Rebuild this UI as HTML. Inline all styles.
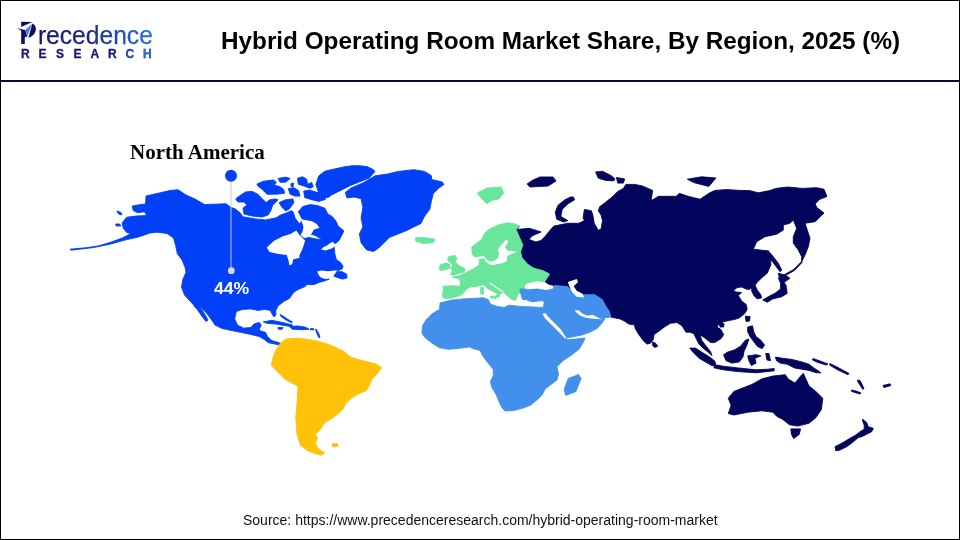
<!DOCTYPE html>
<html><head><meta charset="utf-8">
<style>
html,body{margin:0;padding:0;background:#fff;}
#page{position:relative;width:960px;height:540px;overflow:hidden;background:#fff;}
#frame{position:absolute;left:0;top:0;width:958px;height:538px;border:1px solid #000;}
#hline{position:absolute;left:0;top:80px;width:960px;height:2px;background:#0b0a3c;}
#title{position:absolute;left:221px;top:26.5px;will-change:transform;font:bold 24.3px "Liberation Sans",sans-serif;color:#000;white-space:nowrap;}
#src{position:absolute;left:243px;top:512px;will-change:transform;font:14px "Liberation Sans",sans-serif;color:#111;white-space:nowrap;}
#na{position:absolute;left:130px;top:139.5px;will-change:transform;font:bold 21px "Liberation Serif",serif;color:#000;white-space:nowrap;}
#pct{position:absolute;left:213.5px;top:280.3px;will-change:transform;font:bold 16px "Liberation Sans",sans-serif;color:#fff;white-space:nowrap;transform:scaleX(1.1);transform-origin:0 0;}
svg{position:absolute;left:0;top:0;}
</style></head><body>
<div id="page">
<svg width="960" height="540" viewBox="0 0 960 540">
<path fill="#03045c" stroke="#03045c" stroke-width="0.9" stroke-linejoin="round" d="M519.4,226.1 517.2,229.5 529.2,228.3 541.1,231.9 532.0,236.0 529.0,239.5 536.0,242.0 541.0,240.5 545.0,236.5 550.7,229.5 553.9,226.1 567.8,223.3 578.9,223.3 584.4,220.6 583.1,217.8 584.4,209.4 591.4,210.8 592.8,215.0 594.2,223.3 598.3,230.3 601.1,228.9 602.5,220.6 601.1,215.0 598.3,210.8 599.7,206.7 605.3,202.5 612.2,197.0 617.8,191.4 623.3,188.6 625.9,184.4 634.8,184.4 642.2,185.9 652.6,190.4 651.1,200.7 658.5,196.3 676.3,196.3 679.3,193.3 688.1,196.3 700.0,199.3 708.9,193.3 714.8,190.4 726.7,189.6 740.0,190.4 749.6,190.6 758.3,192.8 770.0,190.6 775.8,188.4 787.5,187.0 802.1,188.4 816.7,187.7 824.0,189.2 826.9,196.5 819.6,199.4 815.2,203.8 816.7,207.4 824.0,213.0 815.0,221.7 805.0,223.3 806.7,228.3 810.0,238.3 808.3,246.7 805.0,255.0 801.7,261.7 801.7,256.7 798.3,250.0 793.3,243.3 793.3,236.7 796.7,228.3 793.3,220.0 790.0,223.3 783.3,225.0 783.3,230.0 776.7,234.2 765.0,236.7 756.7,241.7 753.3,249.2 760.0,250.0 766.7,250.8 770.8,256.7 770.8,265.0 767.2,273.3 761.7,277.8 757.5,282.0 755.0,285.0 757.2,290.0 760.6,294.4 761.7,297.8 757.2,298.9 753.9,295.6 751.7,291.1 751.7,287.8 749.4,289.5 746.1,289.0 741.7,287.0 737.2,287.5 733.5,290.5 736.0,292.0 741.7,292.5 738.3,295.6 741.7,301.1 746.1,304.4 747.2,308.9 745.0,313.3 739.4,317.8 735.2,319.3 728.7,320.6 722.3,321.9 723.6,324.5 718.4,324.5 717.1,327.0 721.0,329.6 723.6,334.8 721.0,338.7 714.5,342.6 710.6,342.6 704.1,337.4 700.2,334.8 701.5,340.0 705.4,345.2 710.6,351.7 711.9,355.6 709.3,353.0 704.1,349.1 698.9,343.9 696.3,338.7 693.7,333.5 689.8,332.2 686.0,332.2 682.0,325.8 676.9,322.5 670.4,323.3 664.4,327.0 658.5,331.5 654.1,334.4 653.3,339.6 650.4,343.3 646.7,344.1 643.7,341.1 639.3,335.2 635.6,329.3 634.1,324.8 628.9,324.1 624.4,321.1 620.0,318.9 610.9,317.1 609.1,311.1 605.4,305.6 602.2,299.4 594.8,294.8 583.7,294.8 574.4,292.0 567.0,286.5 554.1,285.6 548.0,284.0 545.0,282.0 548.5,276.0 549.4,273.9 542.8,270.6 533.9,268.3 527.2,263.9 521.7,257.2 520.6,251.7 522.8,245.0 519.4,237.2 516.1,229.4Z"/>
<path fill="#03045c" stroke="#03045c" stroke-width="0.9" stroke-linejoin="round" d="M573.3,197.0 574.7,199.7 567.8,203.9 562.2,209.4 560.8,216.4 567.8,220.6 563.6,222.0 556.7,219.2 555.3,212.2 558.0,205.3 565.0,199.7 570.6,197.0Z"/>
<path fill="#03045c" stroke="#03045c" stroke-width="0.9" stroke-linejoin="round" d="M527.0,184.0 533.0,180.0 540.0,177.0 553.0,177.0 556.0,181.0 548.0,186.0 530.0,187.0Z"/>
<path fill="#03045c" stroke="#03045c" stroke-width="0.9" stroke-linejoin="round" d="M595.6,171.9 602.5,171.3 610.8,175.4 615.0,178.9 613.6,181.0 605.3,180.3 598.3,178.2Z"/>
<path fill="#03045c" stroke="#03045c" stroke-width="0.9" stroke-linejoin="round" d="M616.4,177.5 624.7,178.9 623.3,183.1 617.8,183.1Z"/>
<path fill="#03045c" stroke="#03045c" stroke-width="0.9" stroke-linejoin="round" d="M687.3,179.2 701.7,176.8 716.0,178.0 708.8,186.4 694.5,182.8Z"/>
<path fill="#03045c" stroke="#03045c" stroke-width="0.9" stroke-linejoin="round" d="M767.5,250.0 773.3,256.7 778.3,263.3 781.7,270.0 780.0,271.7 775.0,265.0 770.0,258.3Z"/>
<path fill="#03045c" stroke="#03045c" stroke-width="0.9" stroke-linejoin="round" d="M801.7,261.5 793.3,269.8 786.7,273.3 784.0,275.0 786.0,275.2 794.0,270.8 802.0,262.5Z"/>
<path fill="#03045c" stroke="#03045c" stroke-width="0.9" stroke-linejoin="round" d="M778.3,273.3 785.0,275.0 790.0,278.3 785.0,281.7 780.0,280.0Z"/>
<path fill="#03045c" stroke="#03045c" stroke-width="0.9" stroke-linejoin="round" d="M778.3,277.8 782.8,280.0 786.1,285.6 787.2,293.3 781.7,296.7 772.8,298.9 767.2,302.2 762.8,300.0 768.3,296.7 775.0,293.3 780.6,288.9 780.6,283.3Z"/>
<path fill="#03045c" stroke="#03045c" stroke-width="0.9" stroke-linejoin="round" d="M745.3,316.2 750.1,316.5 749.5,321.0 746.0,321.5Z"/>
<path fill="#03045c" stroke="#03045c" stroke-width="0.9" stroke-linejoin="round" d="M719.5,324.0 724.0,323.5 723.5,327.0 720.0,327.0Z"/>
<path fill="#03045c" stroke="#03045c" stroke-width="0.9" stroke-linejoin="round" d="M652.6,341.9 655.6,343.3 657.8,346.3 654.8,347.4 652.6,345.6Z"/>
<path fill="#03045c" stroke="#03045c" stroke-width="0.9" stroke-linejoin="round" d="M689.8,348.1 695.4,348.1 702.8,352.8 710.2,357.4 714.8,361.1 715.7,364.8 712.0,365.7 705.6,362.0 699.1,358.3 693.5,352.8Z"/>
<path fill="#03045c" stroke="#03045c" stroke-width="0.9" stroke-linejoin="round" d="M714.0,364.5 723.0,366.2 737.8,367.9 756.0,369.8 768.0,369.2 774.2,368.5 774.2,370.8 756.0,372.8 737.8,371.6 723.0,369.8 714.0,367.8Z"/>
<path fill="#03045c" stroke="#03045c" stroke-width="0.9" stroke-linejoin="round" d="M723.6,354.7 727.2,352.3 734.4,349.9 740.5,346.3 745.3,340.3 748.9,339.1 746.5,346.3 744.1,351.1 742.9,357.1 739.3,361.9 732.0,363.1 726.0,360.7Z"/>
<path fill="#03045c" stroke="#03045c" stroke-width="0.9" stroke-linejoin="round" d="M747.7,327.0 752.5,325.8 753.7,331.8 756.1,336.7 760.9,340.3 764.5,345.1 762.1,348.7 757.3,346.3 753.7,341.5 750.1,336.7 747.7,331.8Z"/>
<path fill="#03045c" stroke="#03045c" stroke-width="0.9" stroke-linejoin="round" d="M747.7,355.9 756.1,354.7 760.9,355.9 754.9,358.3 756.1,363.1 751.3,365.5 748.9,360.7Z"/>
<path fill="#03045c" stroke="#03045c" stroke-width="0.9" stroke-linejoin="round" d="M765.7,353.5 769.0,353.5 770.5,360.7 767.0,360.0Z"/>
<path fill="#03045c" stroke="#03045c" stroke-width="0.9" stroke-linejoin="round" d="M775.4,357.1 782.6,358.3 792.2,359.5 801.8,361.9 809.0,364.3 813.9,368.0 821.1,372.8 816.3,372.8 809.0,370.4 801.8,369.2 794.6,368.0 787.4,364.3 780.2,363.1 776.6,360.7Z"/>
<path fill="#03045c" stroke="#03045c" stroke-width="0.9" stroke-linejoin="round" d="M813.0,358.5 820.0,361.0 828.0,364.0 826.0,365.0 818.0,362.5 812.5,360.0Z"/>
<path fill="#03045c" stroke="#03045c" stroke-width="0.9" stroke-linejoin="round" d="M830.0,363.5 838.0,367.5 849.0,373.5 848.0,374.8 837.0,369.5 829.5,365.0Z"/>
<path fill="#03045c" stroke="#03045c" stroke-width="0.9" stroke-linejoin="round" d="M857.5,380.0 860.0,380.5 864.0,388.5 862.8,389.3 858.0,382.0Z"/>
<path fill="#03045c" stroke="#03045c" stroke-width="0.9" stroke-linejoin="round" d="M851.5,390.0 856.0,391.0 861.0,393.0 860.0,394.0 855.0,392.5 851.5,391.3Z"/>
<path fill="#03045c" stroke="#03045c" stroke-width="0.9" stroke-linejoin="round" d="M883.0,385.5 890.0,383.8 890.8,385.5 884.0,387.6Z"/>
<path fill="#03045c" stroke="#03045c" stroke-width="0.9" stroke-linejoin="round" d="M728.3,398.3 733.9,391.4 751.9,384.4 761.7,378.9 772.8,376.1 785.3,374.7 788.1,378.9 795.0,383.1 800.6,376.1 803.3,373.3 808.9,385.8 815.8,391.4 822.8,398.3 821.4,409.4 815.8,417.8 808.9,423.3 797.8,426.1 789.4,424.7 782.5,419.2 776.9,416.4 772.8,412.2 761.7,410.8 747.8,412.2 733.9,415.0 728.3,413.6 731.1,405.3Z"/>
<path fill="#03045c" stroke="#03045c" stroke-width="0.9" stroke-linejoin="round" d="M790.8,428.9 800.6,428.9 799.2,434.4 793.6,438.6 791.5,434.4Z"/>
<path fill="#03045c" stroke="#03045c" stroke-width="0.9" stroke-linejoin="round" d="M862.5,419.2 866.7,422.5 868.3,426.7 873.3,428.3 871.7,431.7 866.7,434.2 861.7,436.7 858.3,437.5 852.5,442.5 846.7,446.7 840.0,450.0 835.8,450.8 835.0,446.7 841.7,443.3 850.0,438.3 855.8,435.0 860.0,431.7 864.2,429.2 864.2,425.0 862.5,420.8Z"/>
<path fill="#69e69b" stroke="#69e69b" stroke-width="0.9" stroke-linejoin="round" d="M471.7,247.2 477.2,242.8 481.7,239.4 485.0,232.8 490.6,228.3 498.3,225.0 507.2,222.8 515.0,223.9 519.4,226.1 516.1,229.4 519.4,237.2 522.8,245.0 520.6,251.7 521.7,257.2 527.2,263.9 533.9,268.3 542.8,270.6 549.4,273.9 548.5,276.0 544.8,281.0 541.0,282.5 530.0,282.8 526.0,284.0 524.4,288.9 522.2,292.2 518.0,294.0 516.5,298.5 515.2,300.5 511.3,299.2 507.4,296.0 503.5,292.0 499.6,294.6 499.0,297.2 496.5,297.0 497.0,293.3 493.2,291.4 488.0,288.8 484.7,285.6 482.8,284.9 478.9,285.6 475.0,286.9 471.1,286.7 466.7,288.9 462.2,294.4 453.3,297.8 444.4,298.9 442.2,295.6 443.3,291.1 443.0,286.3 452.0,285.7 459.6,286.3 460.6,284.0 459.6,279.0 452.2,277.0 457.8,276.1 460.6,275.2 466.1,272.4 471.7,269.6 473.6,268.9 479.1,265.0 479.1,259.4 476.0,258.5 472.4,254.4Z"/>
<path fill="#69e69b" stroke="#69e69b" stroke-width="0.9" stroke-linejoin="round" d="M448.5,256.7 455.0,255.3 456.9,258.5 455.0,262.2 459.6,265.9 465.2,268.7 464.3,271.9 459.6,273.3 453.1,275.2 450.4,274.3 452.2,271.5 451.3,267.8 453.1,265.0 449.4,262.2 447.6,259.4Z"/>
<path fill="#69e69b" stroke="#69e69b" stroke-width="0.9" stroke-linejoin="round" d="M440.2,265.0 445.7,263.1 449.4,264.1 450.4,267.8 446.7,269.6 440.2,270.6 439.3,267.8Z"/>
<path fill="#69e69b" stroke="#69e69b" stroke-width="0.9" stroke-linejoin="round" d="M415.7,237.5 425.0,237.8 435.0,239.2 433.3,242.7 422.7,243.6 415.7,241.0Z"/>
<path fill="#69e69b" stroke="#69e69b" stroke-width="0.9" stroke-linejoin="round" d="M477.2,193.0 486.8,188.2 501.2,187.0 503.6,193.0 498.8,199.1 491.6,200.3 486.8,203.9 482.0,199.1Z"/>
<path fill="#69e69b" stroke="#69e69b" stroke-width="0.9" stroke-linejoin="round" d="M480.5,287.5 483.4,287.5 483.6,294.0 480.8,294.0Z"/>
<path fill="#69e69b" stroke="#69e69b" stroke-width="0.9" stroke-linejoin="round" d="M490.6,296.0 496.4,296.3 496.0,298.3 491.0,298.0Z"/>
<path fill="#4290ec" stroke="#4290ec" stroke-width="0.9" stroke-linejoin="round" d="M440.0,302.9 451.5,300.1 462.9,298.9 474.4,298.3 483.5,297.8 488.1,299.5 490.4,304.1 497.3,306.4 504.2,307.5 508.8,305.2 520.2,306.4 531.7,306.9 543.1,307.5 544.3,302.9 543.1,300.6 531.7,301.8 525.9,299.5 522.5,299.5 520.2,291.5 520.0,288.9 528.3,289.3 537.1,288.5 545.8,290.0 553.1,288.5 554.1,285.6 567.0,286.5 574.4,292.0 583.7,294.8 594.8,294.8 602.2,299.4 605.4,305.6 609.1,311.1 610.9,317.1 605.4,317.6 602.6,322.2 598.0,327.8 590.6,331.9 581.3,335.2 573.9,336.6 566.5,338.0 567.4,339.8 576.7,338.9 585.0,338.0 583.7,341.5 579.3,348.9 571.9,354.8 563.0,360.7 557.0,366.7 558.5,374.1 557.0,380.0 551.1,384.4 545.2,388.9 542.2,394.8 537.8,399.3 530.4,405.2 523.0,408.1 514.1,410.4 505.2,411.1 502.2,408.1 499.3,402.2 496.3,394.8 491.9,387.4 490.4,381.5 493.3,375.6 493.3,369.6 487.4,362.2 483.0,356.3 480.0,350.4 475.2,349.3 469.3,347.0 457.4,348.5 448.5,349.3 439.6,347.8 432.2,343.3 424.8,337.4 421.9,333.0 422.6,325.6 426.3,319.6 432.2,313.7 439.6,309.3Z"/>
<path fill="#4290ec" stroke="#4290ec" stroke-width="0.9" stroke-linejoin="round" d="M568.2,378.5 578.5,374.6 581.1,378.5 575.9,391.5 565.6,395.4 564.3,389.0Z"/>
<path fill="#0240f8" stroke="#0240f8" stroke-width="0.9" stroke-linejoin="round" d="M70.0,249.2 87.8,247.6 98.9,245.8 110.0,242.5 122.2,238.0 131.1,233.6 126.7,232.5 123.3,228.3 122.2,222.8 126.7,217.2 135.6,216.1 146.7,215.5 144.4,211.7 137.8,212.8 133.3,210.6 132.2,206.1 137.8,205.0 145.6,203.9 146.0,196.0 157.0,193.5 170.0,190.5 178.0,189.7 186.0,195.0 195.0,199.0 204.5,204.5 220.0,204.0 226.0,203.7 231.0,207.5 235.0,208.7 240.0,212.8 243.0,216.8 255.5,218.9 265.6,219.9 275.8,217.9 281.0,214.8 287.0,212.8 291.0,210.7 297.0,214.0 301.0,221.0 304.0,229.0 300.0,235.0 304.0,238.5 309.0,237.5 316.0,239.0 323.0,239.5 330.0,238.0 333.0,234.0 337.0,233.0 343.7,231.3 339.3,240.2 334.0,245.0 334.8,253.5 336.3,259.4 340.4,262.4 343.1,266.1 342.2,268.9 337.6,270.7 329.0,272.5 322.0,273.0 329.3,279.1 324.6,280.9 318.1,282.8 314.4,284.6 307.0,284.6 305.2,286.5 298.7,289.3 294.1,292.0 291.3,295.7 289.4,298.5 283.9,301.3 279.3,305.0 277.9,306.3 275.8,310.4 275.8,315.6 273.8,316.7 271.7,313.5 270.6,310.4 264.4,309.4 258.1,310.4 250.8,308.9 242.5,309.4 236.3,311.5 234.7,318.8 237.3,325.0 243.5,328.1 250.8,327.6 254.0,324.0 259.2,322.4 261.3,325.0 259.2,329.2 261.3,331.3 265.4,332.3 267.5,336.5 271.7,340.6 275.8,341.7 281.0,343.5 279.0,344.8 273.8,343.8 268.5,342.7 264.4,339.6 259.2,336.5 250.8,334.4 240.4,332.3 230.0,330.2 221.7,328.3 215.0,325.0 211.7,320.0 206.7,313.3 200.0,306.7 194.6,306.0 189.9,300.9 184.5,295.0 181.5,287.0 183.0,279.0 186.0,272.5 185.2,267.8 182.0,259.9 177.3,253.6 175.7,245.7 173.5,238.0 167.0,233.5 157.2,232.2 150.0,233.0 144.4,235.0 137.8,237.2 126.7,239.6 110.0,244.2 93.3,247.6 71.1,250.2Z"/>
<path fill="#0240f8" stroke="#0240f8" stroke-width="0.9" stroke-linejoin="round" d="M117.0,211.0 121.0,212.5 122.0,215.0 118.5,214.0Z"/>
<path fill="#0240f8" stroke="#0240f8" stroke-width="0.9" stroke-linejoin="round" d="M115.6,224.0 119.5,223.9 121.0,225.8 116.5,226.2Z"/>
<path fill="#0240f8" stroke="#0240f8" stroke-width="0.9" stroke-linejoin="round" d="M196.0,305.0 199.0,306.0 204.0,313.0 208.0,320.0 206.0,321.5 201.0,315.0 197.0,309.0 194.0,306.0Z"/>
<path fill="#0240f8" stroke="#0240f8" stroke-width="0.9" stroke-linejoin="round" d="M333.5,276.0 336.7,271.7 342.2,271.7 346.9,274.4 346.9,278.1 342.2,279.1 336.7,277.2Z"/>
<path fill="#0240f8" stroke="#0240f8" stroke-width="0.9" stroke-linejoin="round" d="M235.6,198.9 239.3,196.1 245.7,191.9 252.2,191.4 257.8,194.2 262.4,198.9 266.1,202.6 269.8,199.8 275.4,198.9 278.1,199.8 272.6,205.3 270.7,210.9 268.0,215.0 262.0,217.0 252.0,216.0 244.0,214.0 243.0,208.0 247.0,205.0 244.0,202.0 238.0,202.0Z"/>
<path fill="#0240f8" stroke="#0240f8" stroke-width="0.9" stroke-linejoin="round" d="M256.9,184.0 263.3,181.3 273.5,179.9 276.3,182.2 274.4,185.0 280.0,186.8 283.7,189.6 284.6,193.3 276.3,194.2 267.0,194.2 262.4,189.6 257.8,185.9Z"/>
<path fill="#0240f8" stroke="#0240f8" stroke-width="0.9" stroke-linejoin="round" d="M278.1,178.5 285.6,177.1 290.2,178.5 285.6,182.2 280.0,182.2Z"/>
<path fill="#0240f8" stroke="#0240f8" stroke-width="0.9" stroke-linejoin="round" d="M288.3,188.7 293.9,187.7 298.5,190.5 300.0,196.1 294.8,196.1 290.2,194.2Z"/>
<path fill="#0240f8" stroke="#0240f8" stroke-width="0.9" stroke-linejoin="round" d="M297.5,178.3 302.5,176.7 306.7,179.2 307.5,184.2 311.7,182.5 313.3,186.7 310.0,188.3 303.3,185.8 298.3,184.2Z"/>
<path fill="#0240f8" stroke="#0240f8" stroke-width="0.9" stroke-linejoin="round" d="M291.0,183.5 293.5,183.0 293.0,187.0 291.0,186.5Z"/>
<path fill="#0240f8" stroke="#0240f8" stroke-width="0.9" stroke-linejoin="round" d="M303.7,191.1 309.4,190.1 315.9,192.0 322.5,193.9 326.2,195.7 325.3,199.5 318.7,201.4 311.2,199.5 304.7,197.6Z"/>
<path fill="#0240f8" stroke="#0240f8" stroke-width="0.9" stroke-linejoin="round" d="M279.1,202.6 285.6,199.8 293.0,198.9 293.9,202.6 289.3,209.0 285.6,210.9 281.9,207.2Z"/>
<path fill="#0240f8" stroke="#0240f8" stroke-width="0.9" stroke-linejoin="round" d="M298.1,212.0 302.8,206.5 310.2,204.6 317.6,205.6 325.0,208.3 327.8,213.9 332.4,216.7 336.1,221.3 338.0,225.9 343.5,230.6 341.7,234.3 334.3,235.2 331.5,238.9 326.9,240.7 321.3,238.9 314.8,235.2 311.1,234.3 313.9,229.6 319.4,227.8 316.7,224.1 312.0,221.3 307.4,221.3 302.8,219.4 299.1,216.7Z"/>
<path fill="#0240f8" stroke="#0240f8" stroke-width="0.9" stroke-linejoin="round" d="M315.9,184.5 318.7,176.1 324.4,171.4 331.9,169.5 345.0,166.7 352.5,165.7 360.0,165.7 367.5,166.7 373.1,169.5 375.0,171.4 369.3,177.9 360.0,181.7 350.6,185.4 343.1,189.2 337.5,192.0 331.9,194.8 328.1,197.6 322.5,196.7 318.7,192.9Z"/>
<path fill="#0240f8" stroke="#0240f8" stroke-width="0.9" stroke-linejoin="round" d="M345.3,192.6 350.6,188.2 362.9,182.9 375.2,175.8 387.5,174.1 398.1,171.4 413.9,169.7 424.5,171.4 431.5,175.8 431.5,179.4 442.1,182.0 443.9,184.6 438.6,188.2 433.3,193.5 431.5,200.5 429.8,209.3 424.5,216.3 421.0,223.4 413.9,226.9 406.9,230.4 398.1,233.9 389.3,237.5 384.0,242.7 378.7,248.0 373.5,251.5 366.4,249.8 361.1,242.7 359.4,233.9 362.9,226.9 361.1,218.1 362.9,207.5 361.1,198.7 354.1,197.0 347.0,197.9Z"/>
<path fill="#0240f8" stroke="#0240f8" stroke-width="0.9" stroke-linejoin="round" d="M263.3,321.9 271.7,320.3 280.0,321.9 286.3,323.4 292.5,325.0 291.5,326.6 284.2,325.5 275.8,324.0 267.5,323.4Z"/>
<path fill="#0240f8" stroke="#0240f8" stroke-width="0.9" stroke-linejoin="round" d="M289.4,326.6 297.7,326.0 305.0,327.1 309.2,329.2 301.9,329.7 292.5,329.2Z"/>
<path fill="#0240f8" stroke="#0240f8" stroke-width="0.9" stroke-linejoin="round" d="M277.9,327.6 283.1,327.6 282.1,329.2 278.4,329.2Z"/>
<path fill="#0240f8" stroke="#0240f8" stroke-width="0.9" stroke-linejoin="round" d="M310.5,328.5 314.0,328.8 313.5,330.0 310.5,329.8Z"/>
<path fill="#0240f8" stroke="#0240f8" stroke-width="0.9" stroke-linejoin="round" d="M280.0,314.6 283.0,316.0 288.0,319.5 292.5,322.0 291.5,322.8 286.0,320.0 281.0,316.5Z"/>
<path fill="#0240f8" stroke="#0240f8" stroke-width="0.9" stroke-linejoin="round" d="M315.4,329.2 316.5,329.5 319.0,334.0 320.0,337.5 318.8,337.5 317.0,333.5Z"/>
<path fill="#ffc208" stroke="#ffc208" stroke-width="0.9" stroke-linejoin="round" d="M280.2,343.3 286.1,338.9 298.0,338.1 314.3,340.4 324.6,343.0 335.0,347.0 343.9,351.5 351.3,357.5 363.1,360.8 376.5,364.1 381.7,367.8 376.5,374.4 372.0,378.9 369.1,386.3 366.1,390.7 358.7,393.7 351.3,398.1 345.4,404.1 342.8,409.4 334.3,416.7 324.7,422.7 319.9,429.9 315.1,434.7 317.5,438.3 315.1,443.1 318.7,449.2 324.7,452.8 321.1,455.2 309.1,451.6 300.6,445.5 297.0,434.7 295.8,417.9 297.1,402.2 298.0,386.3 284.6,378.9 278.7,373.0 271.3,365.6 272.8,358.1 275.7,350.7Z"/>
<path fill="#ffc208" stroke="#ffc208" stroke-width="0.9" stroke-linejoin="round" d="M332.0,444.0 337.0,443.5 338.5,446.0 333.0,447.0Z"/>
<path fill="#fff" d="M489.9,282.5 503.5,291.3 503.2,292.6 489.5,283.6Z"/>
<path fill="#fff" d="M498.0,250.0 500.2,246.1 502.4,243.9 506.1,239.4 508.3,241.7 505.0,247.2 507.2,250.6 517.2,251.7 511.7,254.0 507.2,256.0 506.9,261.1 502.4,263.3 498.0,263.9 493.0,265.0 488.0,263.9 490.2,261.7 494.1,261.1 498.0,258.3 499.1,253.9Z"/>
<path fill="#fff" d="M474.0,257.5 480.0,256.5 484.0,256.0 486.0,259.0 482.4,258.3 479.1,259.4 476.0,259.5Z"/>
<path fill="#fff" d="M484.7,260.0 486.3,259.0 490.2,262.0 488.0,263.3 485.8,262.2Z"/>
<path fill="#fff" d="M542.4,313.9 545.2,313.0 549.8,318.5 555.4,324.1 560.9,329.6 564.6,335.2 566.5,338.0 565.6,338.9 561.9,335.2 556.3,329.6 550.7,324.1 545.2,318.5Z"/>
<path fill="#fff" d="M574.8,310.2 578.5,310.2 583.1,313.9 587.8,315.7 592.4,314.8 596.0,316.5 602.0,319.5 598.0,319.0 590.6,318.5 585.0,317.6 580.4,315.7 575.7,312.0Z"/>
<path fill="#fff" d="M526.0,284.0 530.0,282.8 537.1,281.3 545.8,282.7 553.1,288.5 545.8,290.0 537.1,288.5 528.3,289.3 524.5,287.5Z"/>
<path fill="#fff" d="M567.8,281.9 576.7,278.9 578.1,281.9 573.7,286.3 576.7,290.7 582.6,293.7 584.1,297.4 576.7,296.7 572.2,292.2 569.3,286.3Z"/>
<path fill="#fff" d="M292.6,208.5 297.0,209.5 299.0,214.0 302.0,219.5 299.5,223.5 295.5,218.0Z"/>
<path fill="#fff" d="M302.5,219.5 312.0,221.3 316.7,224.1 319.4,227.8 313.9,229.6 311.1,234.3 305.0,236.5 302.0,234.0 303.5,227.0Z"/>
<path fill="#fff" d="M266.7,247.4 274.1,240.7 283.0,236.3 290.4,234.1 296.3,230.4 299.3,234.8 305.2,240.7 302.2,249.6 299.3,255.6 299.6,257.8 293.1,259.6 292.2,264.3 289.4,265.2 288.5,260.6 286.7,255.0 278.5,254.1 269.6,251.9Z"/>
<path fill="#fff" d="M321.0,249.4 323.3,247.2 327.8,245.0 332.2,241.7 336.7,245.0 332.2,248.3 325.6,250.6Z"/>
<path fill="#fff" d="M317.2,271.2 322.0,270.6 328.0,271.2 334.8,270.6 337.0,270.0 333.3,276.3 329.3,278.5 325.0,279.0 321.0,277.5 318.5,275.0Z"/>
<line x1="231" y1="176" x2="231" y2="270.5" stroke="#c8c8d0" stroke-width="1"/>
<circle cx="231" cy="175.8" r="6" fill="#0240f8"/>
<circle cx="231.3" cy="270.7" r="3.4" fill="#d8d8ee"/>
</svg>
<div id="title">Hybrid Operating Room Market Share, By Region, 2025 (%)</div>
<div id="na">North America</div>
<div id="pct">44%</div>
<div id="src">Source: https://www.precedenceresearch.com/hybrid-operating-room-market</div>
<div id="hline"></div>
<div id="frame"></div>

<svg width="170" height="70" viewBox="0 0 170 70" style="position:absolute;left:0;top:0">
<defs>
<linearGradient id="lg" x1="38" y1="0" x2="153" y2="0" gradientUnits="userSpaceOnUse">
<stop offset="0" stop-color="#16186a"/><stop offset="0.45" stop-color="#1c2a8a"/><stop offset="1" stop-color="#2d6ee6"/>
</linearGradient>
</defs>
<path fill="#0d0f5e" d="M21.2,21.8 L32.3,22.1 L21.2,26.9Z"/>
<path fill="#0d0f5e" d="M17.3,28.3 L25.3,29.9 L27.2,36.6 L24.8,37.2 L24.8,44.1 L21.2,44.1 L21.2,30.8Z"/>
<path fill="#0d0f5e" d="M32.3,23.4 C37.5,25 37.6,34.5 28.4,37.8Z"/>
<path fill="#3b7de2" d="M32,23.8 L25.6,29.8 L27.2,36.5Z"/>
<text x="37.9" y="43.9" textLength="115" lengthAdjust="spacingAndGlyphs" font-family="Liberation Sans" font-size="26.5" fill="url(#lg)" stroke="url(#lg)" stroke-width="0.25">recedence</text>
<g font-family="Liberation Sans" font-weight="bold" font-size="12" fill="#16186a" stroke="#16186a" stroke-width="0.3">
<text x="21" y="58">R</text><text x="38.5" y="58">E</text><text x="56" y="58">S</text><text x="73.5" y="58">E</text><text x="90.5" y="58">A</text><text x="108" y="58">R</text><text x="125.5" y="58" fill="#2350c0">C</text><text x="143" y="58" fill="#2d6ee6">H</text>
</g>
</svg>
</div>
</body></html>
